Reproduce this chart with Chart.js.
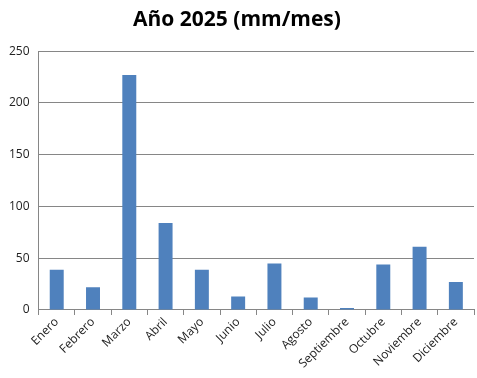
<!DOCTYPE html>
<html><head><meta charset="utf-8">
<script src="https://cdn.jsdelivr.net/npm/chart.js@4"></script>
<style>html,body{margin:0;padding:0;background:#fff;}canvas{display:block;}</style>
</head><body>
<canvas id="c" width="477" height="378"></canvas>
<script>
const categories = ["Enero","Febrero","Marzo","Abril","Mayo","Junio","Julio","Agosto","Septiembre","Octubre","Noviembre","Diciembre"];
const values = [39, 22, 227, 84, 39, 13, 45, 12, 2, 44, 61, 27];
const yTicks = [0, 50, 100, 150, 200, 250];
const titleText = "Año 2025 (mm/mes)";

new Chart(document.getElementById('c'), {
  type: 'bar',
  data: { labels: categories, datasets: [{ data: values, backgroundColor: '#4f81bd', barPercentage: 0.385, categoryPercentage: 1.0 }] },
  options: {
    responsive: false, animation: false,
    layout: { padding: { left: 0, right: 3, top: 7, bottom: 7 } },
    plugins: {
      legend: { display: false },
      tooltip: { enabled: false },
      title: { display: true, text: titleText, color: '#000', font: { family: 'Open Sans', size: 21, weight: 'bold' }, padding: { top: 0, bottom: 19 } }
    },
    scales: {
      x: {
        grid: { display: true, drawOnChartArea: false, drawTicks: true, tickLength: 5, color: '#868686', offset: true },
        border: { color: '#868686' },
        ticks: { maxRotation: 45, minRotation: 45, autoSkip: false, color: '#222', font: { family: 'Open Sans', size: 12 }, padding: 0 }
      },
      y: {
        min: 0, max: 250,
        afterBuildTicks: (s) => { s.ticks = yTicks.map(v => ({ value: v })); },
        grid: { color: '#868686', drawTicks: false },
        border: { color: '#868686' },
        ticks: { color: '#222', font: { family: 'Open Sans', size: 12 }, padding: 9 }
      }
    }
  }
});
</script>
</body></html>
